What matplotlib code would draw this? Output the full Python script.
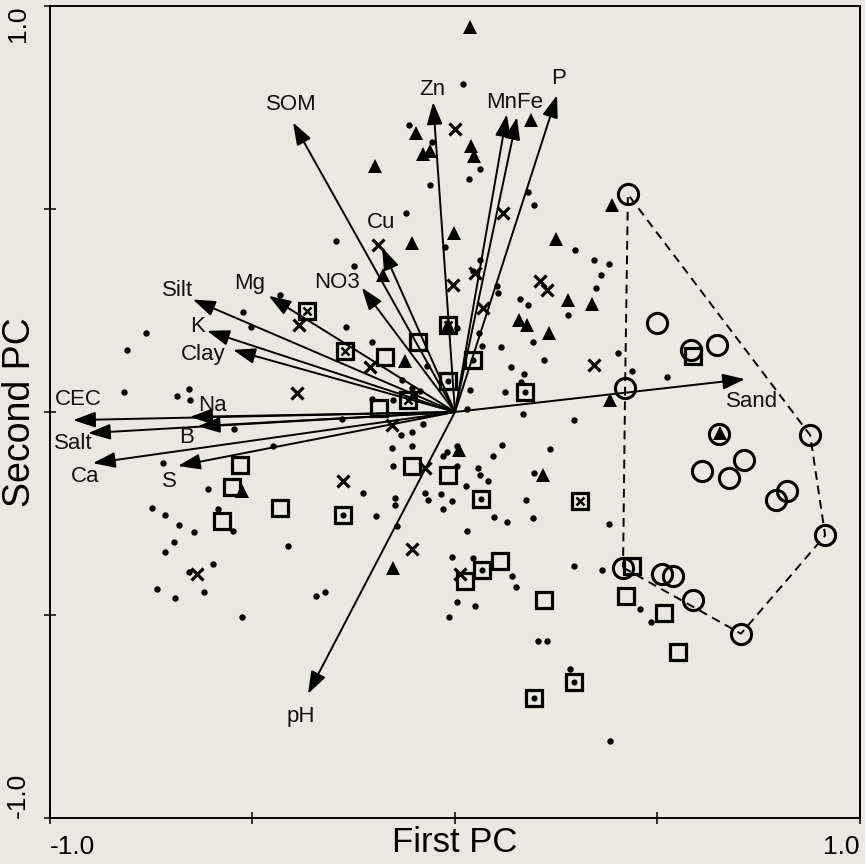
import matplotlib
matplotlib.use("Agg")
import matplotlib.pyplot as plt
import numpy as np

plt.rcParams['font.family'] = ['Liberation Sans', 'DejaVu Sans']

# ---------------- data ----------------
var_names = ["SOM", "Zn", "Mn", "Fe", "P", "Cu", "NO3", "Mg", "Silt", "K", "Clay",
             "CEC", "Na", "Salt", "B", "Ca", "S", "pH", "Sand"]
load_x = [-0.400, -0.054, 0.128, 0.153, 0.252, -0.180, -0.230, -0.460, -0.647, -0.612, -0.548,
          -0.943, -0.654, -0.906, -0.635, -0.894, -0.684, -0.363, 0.716]
load_y = [0.713, 0.763, 0.733, 0.726, 0.780, 0.405, 0.306, 0.286, 0.277, 0.200, 0.153,
          -0.020, -0.012, -0.052, -0.035, -0.126, -0.133, -0.694, 0.081]

label_text = ["SOM", "Zn", "MnFe", "P", "Cu", "NO3", "Mg", "Silt", "K", "Clay",
              "CEC", "Na", "Salt", "B", "Ca", "S", "pH", "Sand"]
label_x = [-0.405, -0.057, 0.148, 0.255, -0.183, -0.291, -0.506, -0.686, -0.635, -0.622,
           -0.931, -0.600, -0.943, -0.662, -0.914, -0.704, -0.380, 0.733]
label_y = [0.758, 0.795, 0.763, 0.822, 0.467, 0.319, 0.316, 0.299, 0.210, 0.141,
           0.032, 0.015, -0.077, -0.064, -0.158, -0.170, -0.750, 0.027]

dot_x = [0.020, -0.114, -0.057, 0.062, 0.035, -0.062, 0.180, 0.195, -0.121, -0.294, -0.025,
         0.296, 0.343, 0.380, 0.360, 0.348, -0.249, 0.062, 0.044, 0.104, 0.106, 0.160, 0.180,
         0.279, 0.005, 0.059, 0.193, 0.114, 0.067, 0.220, 0.402, 0.138, 0.170, 0.037, 0.123,
         0.163, 0.168, 0.294, 0.030, 0.116, 0.235, -0.205, -0.104, -0.086, -0.131, -0.133,
         -0.106, -0.156, -0.106, 0.005, -0.079, -0.523, -0.504, -0.432, -0.269, -0.763,
         -0.810, -0.069, -0.106, -0.205, -0.153, -0.817, -0.686, -0.657, -0.654, -0.279,
         -0.546, -0.449, -0.153, -0.227, -0.721, -0.610, -0.195, -0.748, -0.716, -0.585,
         -0.548, -0.681, -0.644, -0.694, -0.716, -0.412, -0.598, -0.657, -0.736, -0.691,
         -0.620, -0.343, -0.321, -0.526, -0.030, -0.020, 0.094, 0.195, 0.057, 0.062, 0.081,
         0.027, 0.175, -0.148, -0.148, -0.074, -0.067, -0.035, -0.007, -0.030, 0.096, 0.128,
         0.193, 0.030, 0.380, -0.143, -0.007, 0.044, 0.141, 0.151, 0.005, 0.049, -0.015,
         0.294, 0.363, 0.205, 0.227, 0.284, 0.383, 0.457, 0.484, 0.437, 0.523, 0.005]
dot_y = [0.807, 0.706, 0.664, 0.598, 0.575, 0.560, 0.541, 0.509, 0.489, 0.422, 0.407,
         0.398, 0.375, 0.365, 0.338, 0.306, 0.360, 0.375, 0.348, 0.311, 0.294, 0.279, 0.264,
         0.240, 0.207, 0.195, 0.173, 0.160, 0.163, 0.128, 0.146, 0.111, 0.094, 0.054, 0.049,
         0.074, -0.005, -0.020, 0.007, -0.081, -0.091, 0.173, 0.042, 0.052, 0.079, -0.057,
         -0.049, -0.089, -0.084, -0.084, -0.030, 0.247, 0.210, 0.289, 0.210, 0.195,
         0.153, 0.114, 0.059, 0.032, 0.030, 0.049, 0.040, 0.057, 0.030, -0.017,
         -0.042, -0.084, -0.133, -0.200, -0.126, -0.190, -0.257, -0.237, -0.254, -0.240,
         -0.294, -0.279, -0.296, -0.321, -0.346, -0.331, -0.375, -0.395, -0.435, -0.459,
         -0.444, -0.454, -0.444, -0.504, -0.109, -0.099, -0.109, -0.151, -0.138, -0.156, -0.170,
         -0.183, -0.217, -0.212, -0.230, -0.200, -0.217, -0.202, -0.220, -0.240, -0.259, -0.272,
         -0.262, -0.294, -0.277, -0.281, -0.356, -0.360, -0.405, -0.430, -0.467, -0.479, -0.504,
         -0.380, -0.388, -0.563, -0.563, -0.632, -0.810, -0.484, -0.516, 0.101, 0.086, -0.133]

tri_x = [0.037, -0.096, -0.079, -0.062, 0.040, 0.047, 0.188, -0.198, -0.002, -0.106, 0.249,
         -0.178, 0.388, 0.279, 0.338, 0.158, 0.178, 0.232, -0.123, 0.383, -0.526, 0.010,
         0.217, -0.153, -0.017, 0.654]
tri_y = [0.948, 0.686, 0.635, 0.644, 0.654, 0.630, 0.719, 0.607, 0.442, 0.415, 0.427,
         0.338, 0.509, 0.277, 0.267, 0.227, 0.215, 0.195, 0.126, 0.030, -0.195, -0.094,
         -0.156, -0.385, 0.215, -0.052]

cross_x = [0.000, 0.119, -0.190, 0.049, -0.005, 0.210, 0.227, 0.069, 0.343, -0.385, -0.210,
           -0.390, -0.156, -0.277, -0.074, -0.106, 0.012, -0.637]
cross_y = [0.696, 0.491, 0.412, 0.343, 0.314, 0.323, 0.301, 0.257, 0.116, 0.215, 0.111,
           0.047, -0.032, -0.170, -0.138, -0.338, -0.398, -0.400]

sq_x = [-0.091, -0.173, -0.188, -0.531, -0.551, -0.432, -0.575, -0.106, -0.017, 0.025,
        0.111, 0.220, 0.422, 0.516, 0.551, 0.588, 0.437]
sq_y = [0.173, 0.136, 0.010, -0.131, -0.185, -0.237, -0.269, -0.133, -0.156, -0.415,
        -0.368, -0.462, -0.452, -0.496, -0.590, 0.138, -0.380]

sqdot_x = [0.044, -0.017, 0.173, 0.064, -0.277, 0.067, 0.294, 0.195]
sqdot_y = [0.128, 0.077, 0.049, -0.215, -0.254, -0.390, -0.664, -0.704]

sqx_x = [-0.365, -0.272, -0.116, 0.309, -0.017]
sqx_y = [0.249, 0.151, 0.030, -0.220, 0.215]

circ_x = [0.427, 0.499, 0.583, 0.647, 0.420, 0.652, 0.877, 0.610, 0.677, 0.714, 0.793,
          0.820, 0.914, 0.415, 0.511, 0.538, 0.588, 0.706]
circ_y = [0.536, 0.220, 0.153, 0.165, 0.059, -0.054, -0.057, -0.146, -0.163, -0.119, -0.217,
          -0.195, -0.304, -0.383, -0.400, -0.405, -0.464, -0.546]

tick_vals = [-1.0, -0.5, 0.0, 0.5, 1.0]
tick_labels = ["-1.0", "", "", "", "1.0"]


def convex_hull(xs, ys):
    pts = sorted(set(zip(xs, ys)))

    def cross(o, a, b):
        return (a[0] - o[0]) * (b[1] - o[1]) - (a[1] - o[1]) * (b[0] - o[0])
    lower, upper = [], []
    for p in pts:
        while len(lower) >= 2 and cross(lower[-2], lower[-1], p) <= 0:
            lower.pop()
        lower.append(p)
    for p in reversed(pts):
        while len(upper) >= 2 and cross(upper[-2], upper[-1], p) <= 0:
            upper.pop()
        upper.append(p)
    return lower[:-1] + upper[:-1]


# ---------------- figure ----------------
bg = '#ebe8e4'
fig = plt.figure(figsize=(8.65, 8.64), dpi=100, facecolor=bg)
ax = fig.add_axes([0.0578, 0.0532, 0.9364, 0.9399], facecolor=bg)
ax.set_xlim(-1, 1)
ax.set_ylim(-1, 1)

# hull
hull = convex_hull(circ_x, circ_y)
hx = [p[0] for p in hull] + [hull[0][0]]
hy = [p[1] for p in hull] + [hull[0][1]]
ax.plot(hx, hy, color='k', lw=1.4, ls=(0, (4.5, 3)), zorder=2)

# points
ax.plot(dot_x, dot_y, 'o', ms=4.6, color='k', mew=0, zorder=3)
ax.plot(tri_x, tri_y, '^', ms=10, color='k', mew=0, zorder=3)
ax.plot(cross_x, cross_y, 'x', ms=9, mew=2.3, color='k', zorder=3)
ax.plot(sq_x, sq_y, 's', ms=11, mfc='none', mec='k', mew=2.3, zorder=3)
ax.plot(sqdot_x, sqdot_y, 's', ms=11, mfc='none', mec='k', mew=2.3, zorder=3)
ax.plot(sqdot_x, sqdot_y, 'o', ms=4.4, color='k', mew=0, zorder=3)
ax.plot(sqx_x, sqx_y, 's', ms=11, mfc='none', mec='k', mew=2.3, zorder=3)
ax.plot(sqx_x, sqx_y, 'x', ms=6, mew=1.8, color='k', zorder=3)
ax.plot(circ_x, circ_y, 'o', ms=14.5, mfc='none', mec='k', mew=2.2, zorder=3)

# loading arrows
for lx, ly in zip(load_x, load_y):
    ax.annotate('', xy=(lx, ly), xytext=(0, 0),
                arrowprops=dict(arrowstyle='-|>,head_length=0.85,head_width=0.3',
                                lw=1.4, color='k', mutation_scale=16,
                                shrinkA=0, shrinkB=0), zorder=4)

for t, lx, ly in zip(label_text, label_x, label_y):
    ax.text(lx, ly, t, fontsize=16, ha='center', va='center', color='#111111', zorder=5)

# axes styling
for s in ax.spines.values():
    s.set_linewidth(1.4)
    s.set_color('k')
ax.set_xticks(tick_vals)
ax.set_yticks(tick_vals)
ax.set_xticklabels(tick_labels, fontsize=19)
ax.set_yticklabels(tick_labels, fontsize=19, rotation=90)
ax.tick_params(axis='both', direction='inout', length=9, width=1.1, color='k')
ax.tick_params(axis='x', pad=8)
ax.tick_params(axis='y', pad=10)

xl = ax.get_xticklabels()
xl[0].set_ha('left')
xl[-1].set_ha('right')
yl = ax.get_yticklabels()
for lab in yl:
    lab.set_ha('right')
    lab.set_va('center')
yl[0].set_va('bottom')
yl[-1].set_va('top')

ax.set_xlabel('First PC', fontsize=25)
ax.xaxis.set_label_coords(0.5, -0.010)
ax.set_ylabel('Second PC', fontsize=27, ha='center', va='center')
ax.yaxis.set_label_coords(-0.0365, 0.5)

fig.savefig('out.png', dpi=100, facecolor=bg)
